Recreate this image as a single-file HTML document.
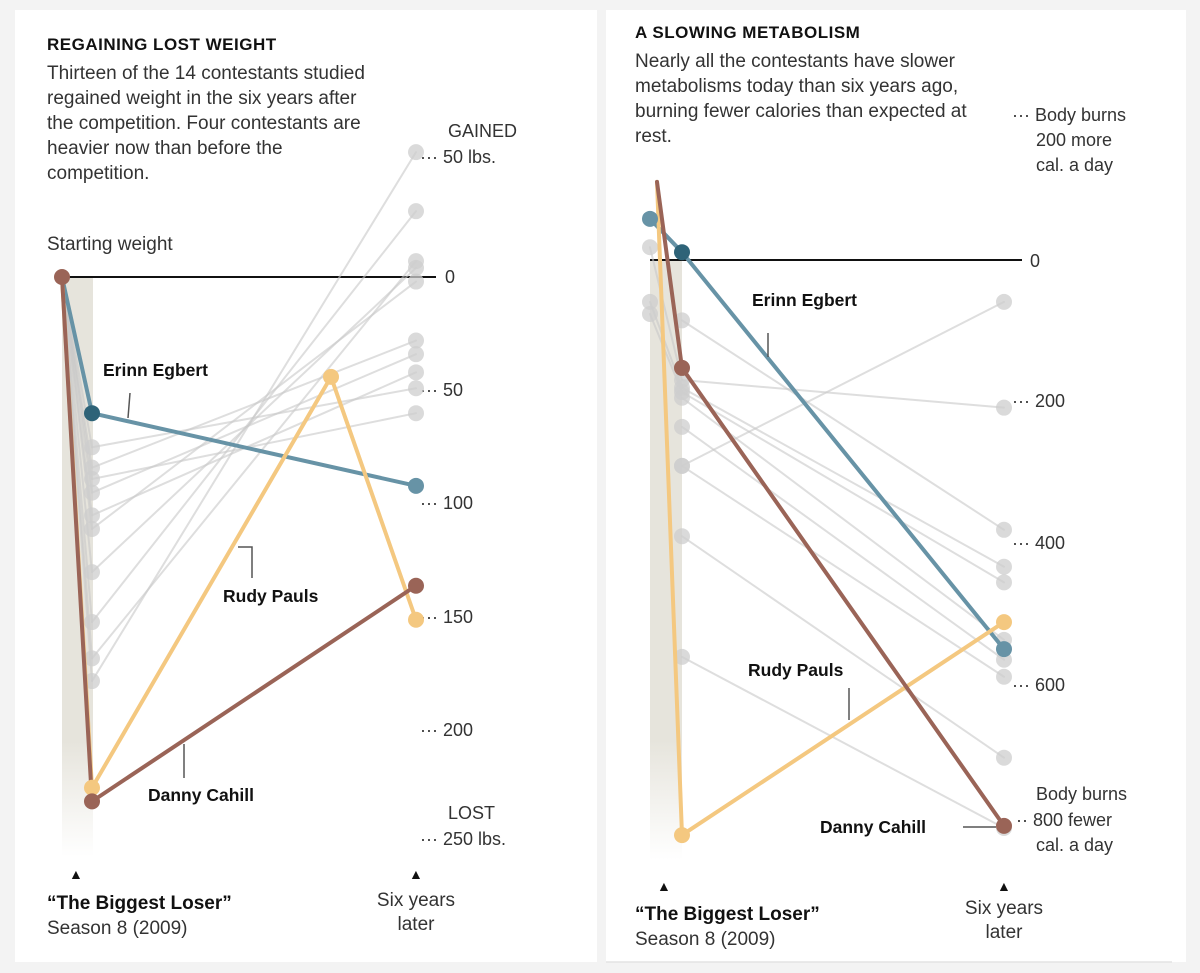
<!DOCTYPE html>
<html><head><meta charset="utf-8"><style>
body{margin:0;background:#f3f3f3;}
svg{display:block;font-family:"Liberation Sans",Arial,sans-serif;}
.t{font-size:19px;fill:#333;}
.h{font-size:17px;font-weight:bold;fill:#111;letter-spacing:0.5px;}
.lab{font-size:17.5px;font-weight:bold;fill:#111;}
.ax{font-size:18px;fill:#333;}
</style></head><body>
<svg id="c" width="1200" height="973" viewBox="0 0 1200 973">
<defs>
<linearGradient id="fade" x1="0" y1="0" x2="0" y2="1"><stop offset="0.8" stop-color="#e6e4dc"/><stop offset="1" stop-color="#e6e4dc" stop-opacity="0"/></linearGradient>
</defs>
<rect x="15" y="10" width="582" height="952" fill="#fff"/>
<rect x="606" y="10" width="580" height="952" fill="#fff"/>
<line x1="606" y1="962" x2="1172" y2="962" stroke="#e3e3e3" stroke-width="1.5"/>

<g>
<text class="h" x="47" y="50">REGAINING LOST WEIGHT</text>
<text class="t" x="47" y="79">Thirteen of the 14 contestants studied</text>
<text class="t" x="47" y="104">regained weight in the six years after</text>
<text class="t" x="47" y="129">the competition. Four contestants are</text>
<text class="t" x="47" y="154">heavier now than before the</text>
<text class="t" x="47" y="179">competition.</text>
<text class="t" x="47" y="250">Starting weight</text>
</g>
<g>
<text class="h" x="635" y="38">A SLOWING METABOLISM</text>
<text class="t" x="635" y="67">Nearly all the contestants have slower</text>
<text class="t" x="635" y="92">metabolisms today than six years ago,</text>
<text class="t" x="635" y="117">burning fewer calories than expected at</text>
<text class="t" x="635" y="142">rest.</text>
</g>

<rect x="62" y="277" width="31" height="580" fill="url(#fade)"/>
<rect x="650" y="260" width="32" height="600" fill="url(#fade)"/>
<line x1="62" y1="277" x2="436" y2="277" stroke="#111" stroke-width="2"/>
<line x1="650" y1="260" x2="1022" y2="260" stroke="#111" stroke-width="2"/>

<g>
<text class="ax" x="448" y="137">GAINED</text>
<text class="ax" x="420" y="163">··· 50 lbs.</text>
<text class="ax" x="445" y="283">0</text>
<text class="ax" x="420" y="396">··· 50</text>
<text class="ax" x="420" y="509">··· 100</text>
<text class="ax" x="420" y="623">··· 150</text>
<text class="ax" x="420" y="736">··· 200</text>
<text class="ax" x="448" y="819">LOST</text>
<text class="ax" x="420" y="845">··· 250 lbs.</text>
</g>
<g>
<text class="ax" x="1012" y="121">··· Body burns</text>
<text class="ax" x="1036" y="146">200 more</text>
<text class="ax" x="1036" y="171">cal. a day</text>
<text class="ax" x="1030" y="267">0</text>
<text class="ax" x="1012" y="407">··· 200</text>
<text class="ax" x="1012" y="549">··· 400</text>
<text class="ax" x="1012" y="691">··· 600</text>
<text class="ax" x="1036" y="800">Body burns</text>
<text class="ax" x="1016" y="826">·· 800 fewer</text>
<text class="ax" x="1036" y="851">cal. a day</text>
</g>

<g id="left"></g>
<g id="right"></g>

<g stroke="#555" stroke-width="1.5" fill="none">
<path d="M130 393 L128 418"/>
<path d="M238 547 H252 V578"/>
<path d="M184 744 V778"/>
<path d="M768 333 V357"/>
<path d="M849 688 V720"/>
<path d="M963 827 H996"/>
</g>
<text class="lab" x="103" y="376">Erinn Egbert</text>
<text class="lab" x="223" y="602">Rudy Pauls</text>
<text class="lab" x="148" y="801">Danny Cahill</text>
<text class="lab" x="752" y="306">Erinn Egbert</text>
<text class="lab" x="748" y="676">Rudy Pauls</text>
<text class="lab" x="820" y="833">Danny Cahill</text>

<g>
<text x="69" y="879" font-size="14" fill="#111">▲</text>
<text x="47" y="909" font-size="19" font-weight="bold" fill="#111">“The Biggest Loser”</text>
<text class="t" x="47" y="934">Season 8 (2009)</text>
<text x="409" y="879" font-size="14" fill="#111">▲</text>
<text class="t" x="416" y="906" text-anchor="middle">Six years</text>
<text class="t" x="416" y="930" text-anchor="middle">later</text>
</g>
<g>
<text x="657" y="891" font-size="14" fill="#111">▲</text>
<text x="635" y="920" font-size="19" font-weight="bold" fill="#111">“The Biggest Loser”</text>
<text class="t" x="635" y="945">Season 8 (2009)</text>
<text x="997" y="891" font-size="14" fill="#111">▲</text>
<text class="t" x="1004" y="914" text-anchor="middle">Six years</text>
<text class="t" x="1004" y="938" text-anchor="middle">later</text>
</g>
</svg>
<script>
// LEFT: pounds lost relative to starting weight (negative = gained)
const grayMidL = [75, 84, 89, 95, 105, 111, 130, 152, 168, 178];
const grayEndL = [49, 28, 60, 34, 42, 2, -4, -29, -7, -55];
const erinnL = [0, 60, 92];
const dannyL = [0, 231, 136];
const rudyL = [0, 225, 151];
const rudyPeakL = 44;
// RIGHT: calories fewer burned than expected (negative = more)
const grayStartR = [null, -18, 59, 76, null, null, null, null, null, null];
const grayMidR = [85, 169, 180, 186, 194, 235, 290, 290, 389, 559];
const grayEndR = [380, 208, 432, 454, 535, 563, 59, 587, 701, 800];
const erinnR = [-58, -11, 548];
const dannyR = [-110, 152, 797];
const rudyR = [-110, 810, 510];

const NS = 'http://www.w3.org/2000/svg';
const yL = v => 277 + v * 2.27;
const yR = v => 260 + v * 0.71;
const xL = [62, 92, 416];
const xR = [650, 682, 1004];
const xRStartHi = 657;

function mk(parent, tag, attrs) {
  const e = document.createElementNS(NS, tag);
  for (const k in attrs) e.setAttribute(k, attrs[k]);
  parent.appendChild(e);
  return e;
}
function line(p, x1, y1, x2, y2, col, w, name) {
  const l = mk(p, 'line', {x1, y1, x2, y2, stroke: col, 'stroke-width': w, 'stroke-linecap': 'round'});
  
  
}
function dot(p, x, y, col, name) {
  const c = mk(p, 'circle', {cx: x, cy: y, r: 8, fill: col});
  
  
}
const GL = 'rgba(200,200,200,0.6)', GD = 'rgba(205,205,205,0.75)';
const L = document.getElementById('left');
const R = document.getElementById('right');

// left gray
grayMidL.forEach((m, i) => {
  line(L, xL[0], yL(0), xL[1], yL(m), GL, 2, 'gray-line-left');
  line(L, xL[1], yL(m), xL[2], yL(grayEndL[i]), GL, 2, 'gray-line-left');
});
grayMidL.forEach((m, i) => {
  dot(L, xL[1], yL(m), GD, 'gray-dot-left');
  dot(L, xL[2], yL(grayEndL[i]), GD, 'gray-dot-left');
});
// right gray
grayMidR.forEach((m, i) => {
  const s = grayStartR[i];
  if (s !== null) line(R, xR[0], yR(s), xR[1], yR(m), GL, 2, 'gray-line-right');
  line(R, xR[1], yR(m), xR[2], yR(grayEndR[i]), GL, 2, 'gray-line-right');
});
grayMidR.forEach((m, i) => {
  const s = grayStartR[i];
  if (s !== null) dot(R, xR[0], yR(s), GD, 'gray-dot-right');
  dot(R, xR[1], yR(m), GD, 'gray-dot-right');
  dot(R, xR[2], yR(grayEndR[i]), GD, 'gray-dot-right');
});

const BLUE = '#6793a6', BLUED = '#2e6378', BROWN = '#9a6457', YEL = '#f4c880';
const rudyPeakX = 331;
// left highlighted
line(L, xL[0], yL(erinnL[0]), xL[1], yL(erinnL[1]), BLUE, 4, 'erinn-line-left');
line(L, xL[1], yL(erinnL[1]), xL[2], yL(erinnL[2]), BLUE, 4, 'erinn-line-left');
line(L, xL[1], yL(rudyL[1]), rudyPeakX, yL(rudyPeakL), YEL, 4, 'rudy-line-left');
line(L, rudyPeakX, yL(rudyPeakL), xL[2], yL(rudyL[2]), YEL, 4, 'rudy-line-left');
line(L, xL[0], yL(rudyL[0]), xL[1], yL(rudyL[1]), YEL, 4, 'rudy-line-left');
line(L, xL[0], yL(dannyL[0]), xL[1], yL(dannyL[1]), BROWN, 4, 'danny-line-left');
line(L, xL[1], yL(dannyL[1]), xL[2], yL(dannyL[2]), BROWN, 4, 'danny-line-left');
dot(L, xL[1], yL(erinnL[1]), BLUED, 'erinn-dot-left');
dot(L, xL[2], yL(erinnL[2]), BLUE, 'erinn-dot-left');
dot(L, rudyPeakX, yL(rudyPeakL), YEL, 'rudy-dot-left');
dot(L, xL[1], yL(rudyL[1]), YEL, 'rudy-dot-left');
dot(L, xL[2], yL(rudyL[2]), YEL, 'rudy-dot-left');
dot(L, xL[1], yL(dannyL[1]), BROWN, 'danny-dot-left');
dot(L, xL[2], yL(dannyL[2]), BROWN, 'danny-dot-left');
dot(L, xL[0], yL(0), BROWN, 'start-dot-left');

// right highlighted
line(R, xR[0], yR(erinnR[0]), xR[1], yR(erinnR[1]), BLUE, 4, 'erinn-line-right');
line(R, xR[1], yR(erinnR[1]), xR[2], yR(erinnR[2]), BLUE, 4, 'erinn-line-right');
line(R, xRStartHi, yR(rudyR[0]), xR[1], yR(rudyR[1]), YEL, 4, 'rudy-line-right');
line(R, xR[1], yR(rudyR[1]), xR[2], yR(rudyR[2]), YEL, 4, 'rudy-line-right');
line(R, xRStartHi, yR(dannyR[0]), xR[1], yR(dannyR[1]), BROWN, 4, 'danny-line-right');
line(R, xR[1], yR(dannyR[1]), xR[2], yR(dannyR[2]), BROWN, 4, 'danny-line-right');
dot(R, xR[0], yR(erinnR[0]), BLUE, 'erinn-dot-right');
dot(R, xR[1], yR(erinnR[1]), BLUED, 'erinn-dot-right');
dot(R, xR[2], yR(erinnR[2]), BLUE, 'erinn-dot-right');
dot(R, xR[1], yR(rudyR[1]), YEL, 'rudy-dot-right');
dot(R, xR[2], yR(rudyR[2]), YEL, 'rudy-dot-right');
dot(R, xR[1], yR(dannyR[1]), BROWN, 'danny-dot-right');
dot(R, xR[2], yR(dannyR[2]), BROWN, 'danny-dot-right');
</script>
</body></html>
